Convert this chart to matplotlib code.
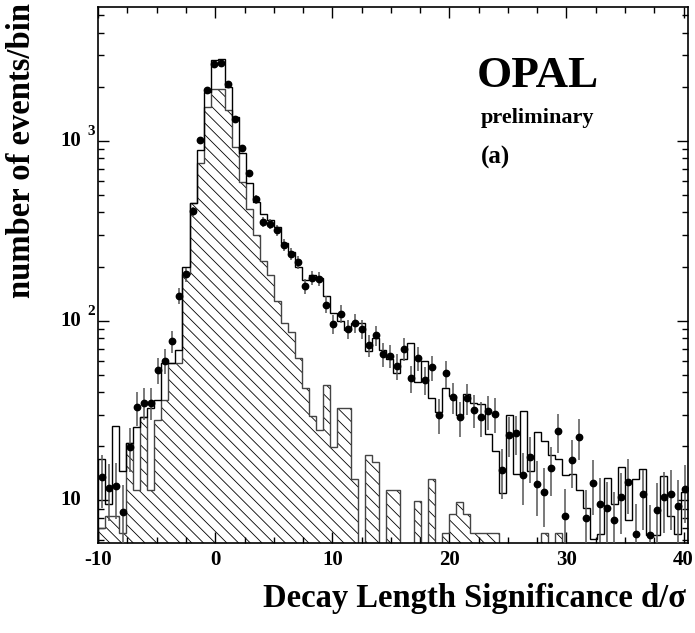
import numpy as np
import matplotlib.pyplot as plt
import matplotlib.transforms as mtransforms
from matplotlib.collections import LineCollection
from matplotlib.ticker import MultipleLocator, LogLocator, NullFormatter, FixedLocator

plt.rcParams['font.family'] = ['Liberation Serif', 'DejaVu Serif']
plt.rcParams['font.weight'] = 'bold'

# binning of the decay length significance
x_lo = -10.0
bin_width = 0.6
n_bins = 84
edges = x_lo + bin_width * np.arange(n_bins + 1)
centers = 0.5 * (edges[:-1] + edges[1:])

# data, events per bin
data = np.array([
    13.5, 11.8, 12.0, 8.6, 19.8, 33, 35, 35, 53, 60,
    77, 138, 181, 405, 1016, 1914, 2673, 2709, 2075, 1322,
    912, 661, 474, 356, 347, 319, 264, 235, 212, 155,
    173, 171, 123, 96, 109, 90, 97, 90, 73, 83,
    65, 64, 56, 70, 48, 62, 47, 55, 30, 51,
    37.5, 29, 37, 32, 29, 31.5, 30.3, 14.8, 23.2, 23.8,
    13.9, 17.5, 12.4, 11.1, 15.2, 24.4, 8.2, 16.7, 22.6, 8.0,
    12.5, 9.6, 9.1, 7.8, 10.4, 12.7, 6.5, 10.8, 6.4, 8.9,
    10.5, 10.8, 9.3, 11.6])

# full Monte Carlo prediction
total_mc = np.array([
    17, 9.5, 26, 14.5, 21, 25.6, 29, 32.5, 36, 58,
    58, 69, 200, 453, 885, 1860, 2820, 2850, 2000, 1355,
    851, 586, 460, 394, 361, 330, 270, 240, 200, 168,
    180, 172, 138, 110, 99, 89, 97, 97, 68, 80,
    69, 61, 51, 61, 75, 45.5, 60, 37, 31, 42,
    38, 30, 39, 35, 34.4, 23.5, 18.8, 11, 30, 14.1,
    31.5, 14.5, 24, 21.4, 17.9, 16.9, 13.9, 14.1, 11.4, 9.1,
    6.1, 6.5, 13.4, 9.5, 15.3, 7.8, 13.1, 14.9, 6.4, 6.4,
    13.6, 8.2, 6.5, 11.1])

# background component (hatched)
background = np.array([
    7, 8.2, 8.2, 6.6, 21, 11.5, 29, 11.5, 28, 36,
    58, 58, 181, 450, 750, 1550, 1950, 1950, 1480, 920,
    590, 420, 300, 215, 180, 128, 97, 87, 62, 42,
    29.4, 24.5, 43.7, 19.8, 32.7, 32.7, 13.1, 0, 18, 16.3,
    0, 11.5, 11.5, 0, 0, 9.9, 0, 13.1, 0, 6.6,
    8.4, 9.8, 8.4, 6.6, 6.6, 6.6, 6.6, 0, 0, 0,
    0, 0, 0, 6.6, 0, 6.6, 0, 0, 0, 0,
    0, 0, 0, 0, 0, 0, 0, 0, 0, 0,
    0, 0, 0, 0])

# weighted events: error = sqrt(w * N)
event_weight = 1.44
data_err = np.sqrt(event_weight * data)

x_ticks = [-10, 0, 10, 20, 30, 40]
y_decades = [10, 100, 1000]
y_exponents = ['', '2', '3']

fig = plt.figure(figsize=(6.95, 6.33), dpi=100)
ax = fig.add_axes([0.1413, 0.1422, 0.8489, 0.8463])
ax.set_yscale('log')
ax.set_xlim(edges[0], edges[-1])
ax.set_ylim(5.8, 5535)

# hatched background histogram
bg_vals = np.where(background > 0, background, 0.1)
bg_patch = ax.stairs(bg_vals, edges, baseline=0.1, fill=True,
                     facecolor='none', edgecolor='#444444', linewidth=1.0, zorder=2)

fig_w, fig_h = fig.get_size_inches() * fig.dpi
pos = ax.get_position()
W = pos.width * fig_w
H = pos.height * fig_h
step = 11.7 / W
slope = H / W
starts = np.arange(-slope, 1 + step, step)
segs = [[(u, 1), (u + slope, 0)] for u in starts]
hatch = LineCollection(segs, transform=ax.transAxes, colors='black',
                       linewidths=0.6, zorder=1.5)
hatch.set_clip_path(bg_patch)
ax.add_collection(hatch, autolim=False)

# total prediction
ax.stairs(total_mc, edges, baseline=0.1, color='black', linewidth=1.0, zorder=3)

# data points
ax.errorbar(centers, data, yerr=data_err, fmt='o', color='black', ms=4.6,
            ecolor='#555555', elinewidth=1.1, capsize=0, zorder=4)

# axes styling
for sp in ax.spines.values():
    sp.set_linewidth(1.2)
ax.xaxis.set_major_locator(FixedLocator(x_ticks))
ax.xaxis.set_minor_locator(MultipleLocator(2.5))
ax.set_xticklabels([str(t) for t in x_ticks])
ax.yaxis.set_major_locator(FixedLocator(y_decades))
ax.yaxis.set_minor_locator(LogLocator(base=10, subs=np.arange(2, 10)))
ax.yaxis.set_major_formatter(NullFormatter())
ax.yaxis.set_minor_formatter(NullFormatter())
ax.tick_params(which='both', direction='in', top=True, right=True, width=1.0)
ax.tick_params(which='major', length=8)
ax.tick_params(which='minor', length=4.3)
ax.tick_params(axis='x', labelsize=15, pad=5)

# y tick labels drawn as 10 with a raised exponent
ytrans = mtransforms.blended_transform_factory(ax.transAxes, ax.transData)
for val, ex in zip(y_decades, y_exponents):
    ax.text(-0.029, val, '10', transform=ytrans, ha='right', va='center',
            fontsize=15, fontweight='bold')
    if ex:
        sup = mtransforms.offset_copy(ytrans, fig=fig, x=0, y=9, units='dots')
        ax.text(-0.019, val, ex, transform=sup, ha='left', va='center',
                fontsize=11, fontweight='bold')

fig.text(686 / 695, 1 - 599 / 633, 'Decay Length Significance d/σ',
         ha='right', va='center', fontsize=23.5, fontweight='bold')
fig.text(22 / 695, 1 - 150 / 633, 'number of events/bin', rotation=90,
         ha='center', va='center', fontsize=23.5, fontweight='bold')

fig.text(477 / 695, 1 - 76 / 633, 'OPAL', ha='left', va='center',
         fontsize=32.5, fontweight='bold')
fig.text(481 / 695, 1 - 118 / 633, 'preliminary', ha='left', va='center',
         fontsize=16, fontweight='bold')
fig.text(481 / 695, 1 - 157 / 633, '(a)', ha='left', va='center',
         fontsize=18, fontweight='bold')

fig.savefig('out.png', dpi=100)
